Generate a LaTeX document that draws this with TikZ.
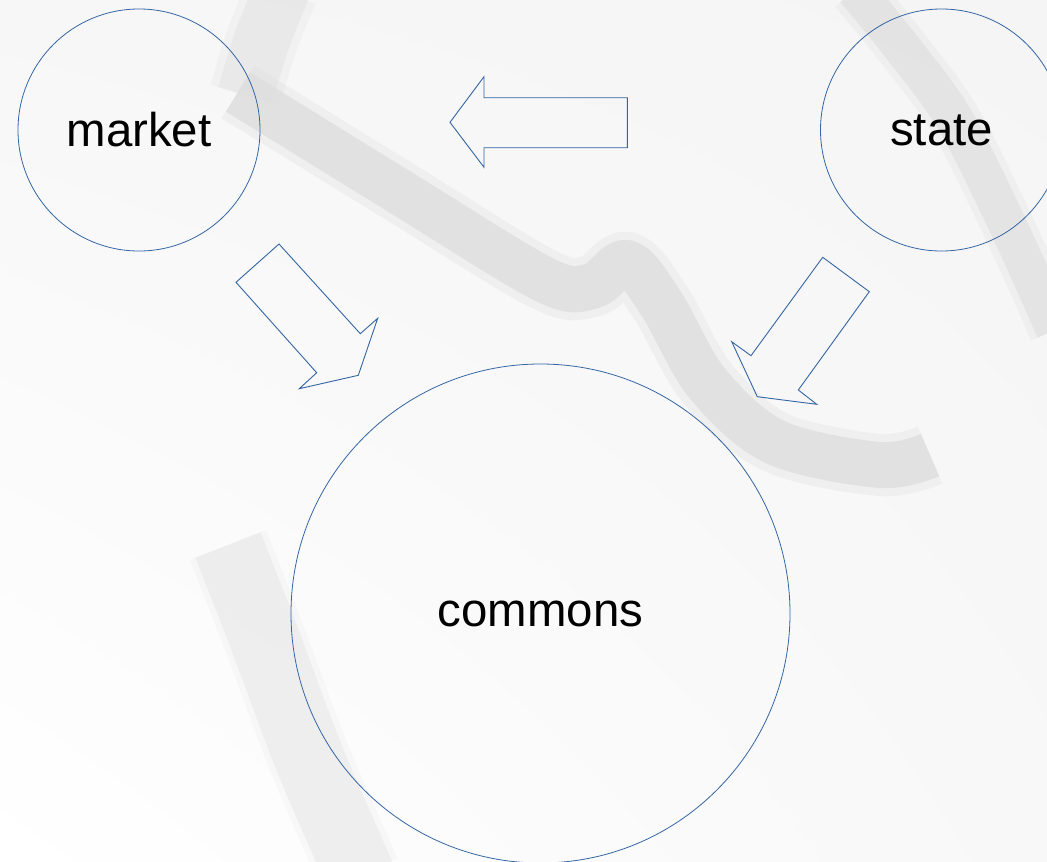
\documentclass[tikz,border=0pt]{standalone}
\usepackage{fontspec}
\setmainfont{Liberation Sans}
\usetikzlibrary{shadings}
\definecolor{lineblue}{HTML}{3465A4}
\definecolor{bgright}{HTML}{F5F5F5}
\definecolor{bandgray}{HTML}{DDDDDD}
\definecolor{bandlight}{HTML}{E6E6E6}
\tikzset{
  bubble/.style={circle, draw=lineblue, line width=0.8pt, inner sep=0pt,
    font=\fontsize{47.4}{56}\selectfont, text=black},
  blockarrow/.style={draw=lineblue, line width=0.9pt, line join=miter},
  band/.style={line cap=butt, line join=round},
}
\begin{document}
\begin{tikzpicture}[x=1pt,y=-1pt]
\useasboundingbox (0,0) rectangle (1047,862);
\clip (0,0) rectangle (1047,862);
% background
\shade[upper right=bgright, upper left=bgright!80!white, lower left=white, lower right=bgright!70!white]
  (0,0) rectangle (1047,862);
% background swooshes (soft edges: wide faint stroke under a narrower one)
\draw[band, bandlight, line width=72pt, opacity=0.35] plot[smooth] coordinates {(282,-10) (262,40) (245,95)};
\draw[band, bandlight, line width=56pt, opacity=0.7] plot[smooth] coordinates {(282,-10) (262,40) (245,95)};
\draw[band, bandgray, line width=62pt, opacity=0.3] plot[smooth, tension=0.55] coordinates
  {(238,92) (400,192) (545,280) (592,286) (627,263) (662,305) (707,383) (775,442) (880,465) (930,455)};
\draw[band, bandgray, line width=46pt, opacity=0.75] plot[smooth, tension=0.55] coordinates
  {(238,92) (400,192) (545,280) (592,286) (627,263) (662,305) (707,383) (775,442) (880,465) (930,455)};
\draw[band, bandgray, line width=52pt, opacity=0.25] plot[smooth] coordinates
  {(855,-10) (900,45) (955,120) (1010,230) (1055,330)};
\draw[band, bandgray, line width=38pt, opacity=0.6] plot[smooth] coordinates
  {(855,-10) (900,45) (955,120) (1010,230) (1055,330)};
\draw[band, bandlight, line width=82pt, opacity=0.2] plot[smooth] coordinates
  {(228,545) (265,640) (310,760) (360,875)};
\draw[band, bandlight, line width=70pt, opacity=0.5] plot[smooth] coordinates
  {(228,545) (265,640) (310,760) (360,875)};

% circles
\node[bubble, minimum size=242pt] (market) at (139,130) {market};
\node[bubble, minimum size=242pt] (state) at (941.5,130) {state};
\node[bubble, minimum size=499pt] (commons) at (540.5,613.5) {commons};

% block arrows
\coordinate (a1tip) at (450,122.3);
\draw[blockarrow] (a1tip) -- (484,76.7) -- (484,97.7) -- (627.3,97.7)
  -- (627.3,147.7) -- (484,147.7) -- (484,167.3) -- cycle;
\coordinate (a2tail) at (279,244);
\draw[blockarrow] (a2tail) -- (236,282.3) -- (316.7,372.7) -- (299.3,388.7)
  -- (358.3,375.3) -- (377.7,318.3) -- (360.3,333.7) -- cycle;
\coordinate (a3tail) at (822.7,257.3);
\draw[blockarrow] (a3tail) -- (869.3,291.7) -- (798.3,390) -- (816.7,404.3)
  -- (757.3,396.7) -- (731.7,341.7) -- (751,355.7) -- cycle;
\end{tikzpicture}
\end{document}
